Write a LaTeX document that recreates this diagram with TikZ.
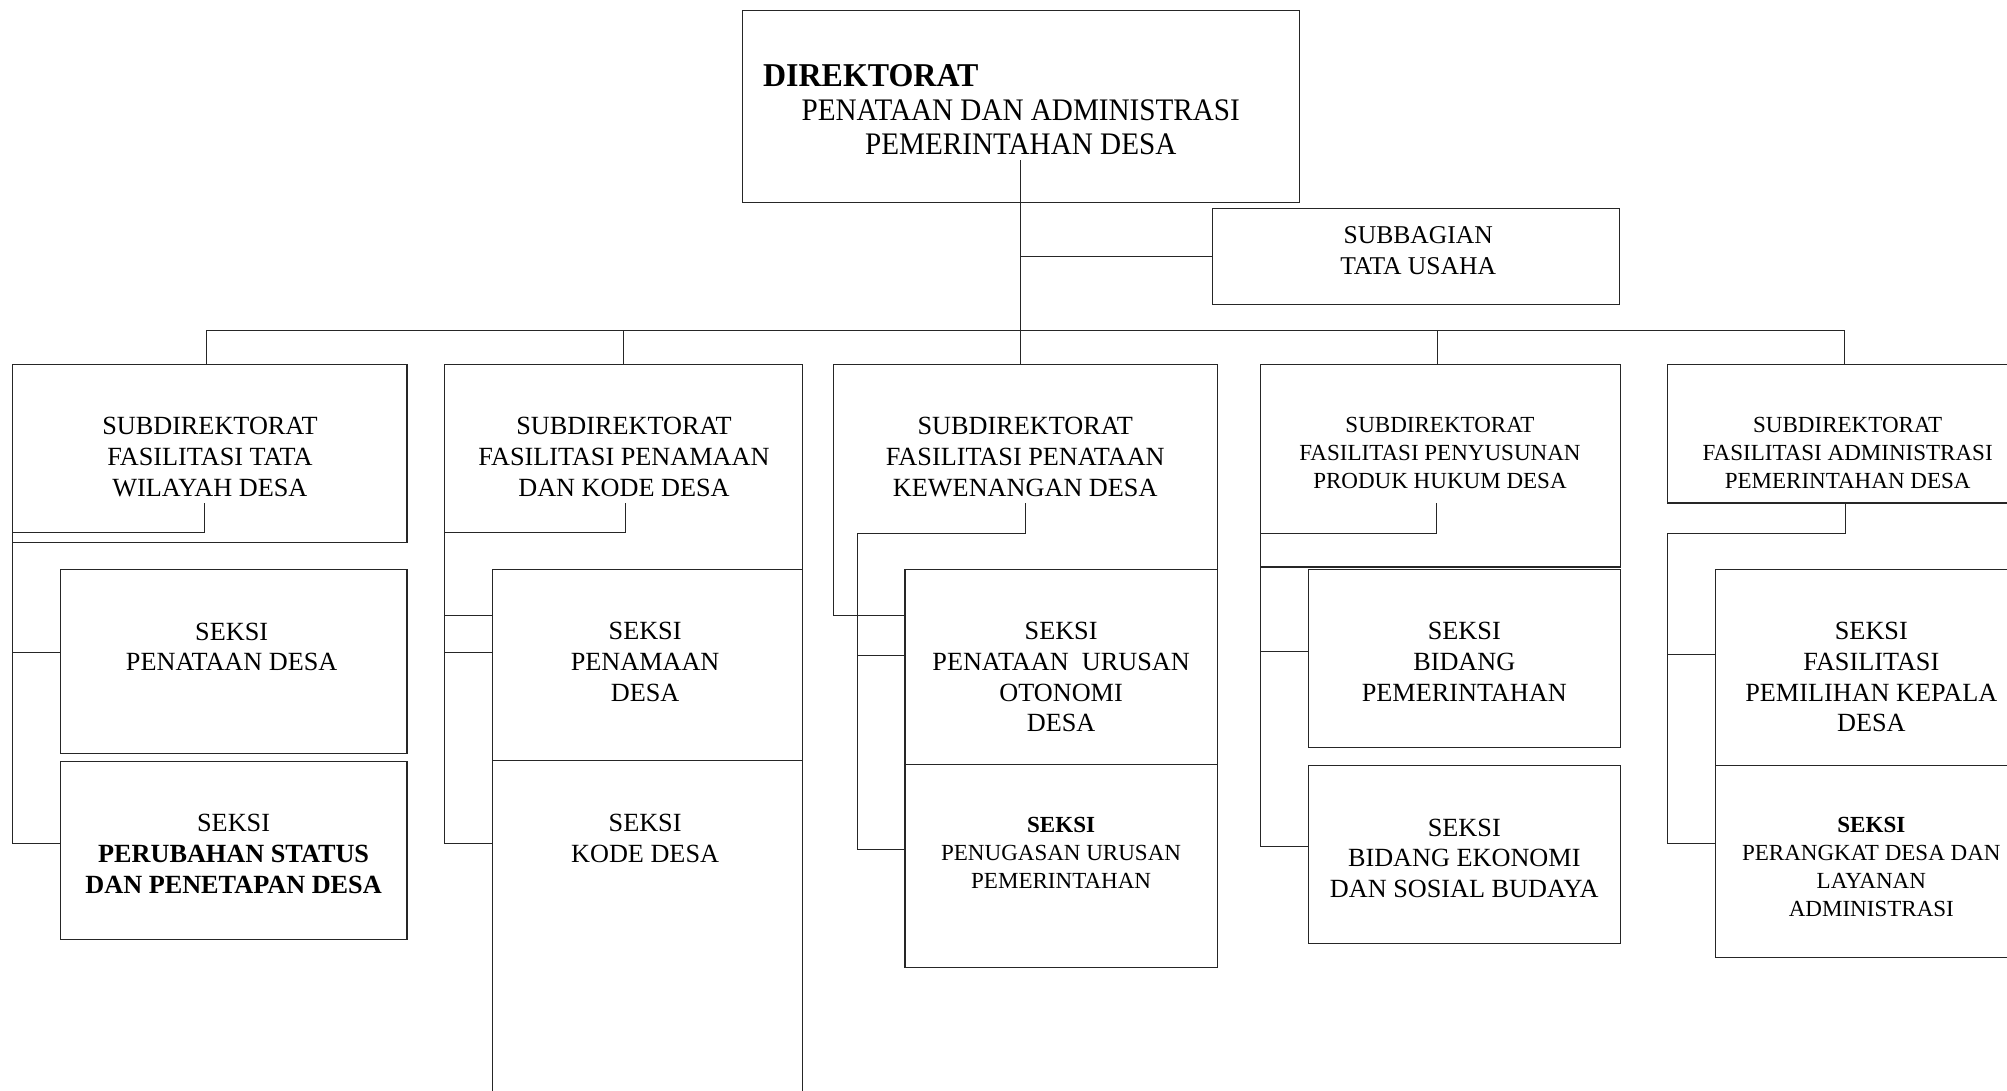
\documentclass[tikz,border=0pt]{standalone}
\usepackage{fontspec}
\setmainfont{Liberation Serif}
\newfontfamily\narrowfont[FakeStretch=0.93]{Liberation Serif}
\newfontfamily\narrowboldfont[FakeStretch=0.96]{Liberation Serif}
\begin{document}
\begin{tikzpicture}[x=1pt,y=-1pt,
  box/.style={draw=black!85, line width=0.9pt, fill=white, rectangle, inner sep=0pt, outer sep=0pt},
  ln/.style={draw=black!85, line width=0.9pt},
  txt/.style={font=\fontsize{20.5}{24}\selectfont, align=center, inner sep=0pt},
  stxt/.style={font=\fontsize{18}{22}\selectfont, align=center, inner sep=0pt}]
\useasboundingbox (0,0) rectangle (1568,852);
\fill[white] (0,0) rectangle (1568,852);
\clip (0,0) rectangle (1568,852);

% top boxes
\node[box, minimum width=435pt, minimum height=150pt] (dir) at (797.5,83) {};
\node[box, minimum width=318pt, minimum height=75pt] (sb) at (1106,200.5) {};

% subdirektorat boxes
\node[box, minimum width=308pt, minimum height=139pt] (sd1) at (164,354.5) {};
\node[box, minimum width=280pt, minimum height=196pt] (sd2) at (487,383) {};
\node[box, minimum width=300pt, minimum height=196pt] (sd3) at (801,383) {};
\node[box, minimum width=281pt, minimum height=158pt] (sd4) at (1125.5,364) {};
\node[box, minimum width=281pt, minimum height=108pt] (sd5) at (1443.5,339) {};

% seksi boxes
\node[box, minimum width=271pt, minimum height=144pt] (s1a) at (182.5,517) {};
\node[box, minimum width=271pt, minimum height=139pt] (s1b) at (182.5,664.5) {};
\node[box, minimum width=242pt, minimum height=149pt] (s2a) at (506,519.5) {};
\node[box, minimum width=242pt, minimum height=286pt] (s2b) at (506,737) {};
\node[box, minimum width=244pt, minimum height=152pt] (s3a) at (829,521) {};
\node[box, minimum width=244pt, minimum height=159pt] (s3b) at (829,676.5) {};
\node[box, minimum width=244pt, minimum height=139pt] (s4a) at (1144,514.5) {};
\node[box, minimum width=244pt, minimum height=139pt] (s4b) at (1144,667.5) {};
\node[box, minimum width=244pt, minimum height=153pt] (s5a) at (1462,521.5) {};
\node[box, minimum width=244pt, minimum height=150pt] (s5b) at (1462,673) {};

% top connectors
\coordinate (dtop) at (797.5,125);
\coordinate (bus) at (0,258);
\draw[ln] (dtop) -- (dtop |- sd3.north);
\draw[ln] (dtop |- sb.west) -- (sb.west);
\draw[ln] ([xshift=-3pt]sd1.north) -- ([xshift=-3pt]sd1.north |- bus) -- ([xshift=-2.5pt]sd5.north |- bus) -- ([xshift=-2.5pt]sd5.north);
\draw[ln] (sd2.north) -- (sd2.north |- bus);
\draw[ln] ([xshift=-2.5pt]sd4.north) -- ([xshift=-2.5pt]sd4.north |- bus);

% column connectors
\coordinate (k1) at (160,393);
\draw[ln] (k1) -- (k1 |- 0,416) -- (sd1.west |- 0,416) -- (sd1.west |- 0,659) -- (s1b.west |- 0,659);
\draw[ln] (sd1.west |- 0,510) -- (s1a.west |- 0,510);

\coordinate (k2) at (489,393);
\draw[ln] (k2) -- (k2 |- 0,416) -- (sd2.west |- 0,416) -- (sd2.west |- 0,659) -- (s2b.west |- 0,659);
\draw[ln] (sd2.west |- 0,510) -- (s2a.west |- 0,510);

\coordinate (k3) at (801,393);
\coordinate (r3) at (670,417);
\draw[ln] (k3) -- (k3 |- r3) -- (r3) -- (r3 |- 0,664) -- (s3b.west |- 0,664);
\draw[ln] (r3 |- 0,512) -- (s3a.west |- 0,512);

\coordinate (k4) at (1122,393);
\draw[ln] (k4) -- (k4 |- 0,417) -- (sd4.west |- 0,417) -- (sd4.west |- 0,661) -- (s4b.west |- 0,661);
\draw[ln] (sd4.west |- 0,509) -- (s4a.west |- 0,509);

\coordinate (k5) at (1442,393);
\draw[ln] (k5) -- (k5 |- 0,417) -- (sd5.west |- 0,417) -- (sd5.west |- 0,659) -- (s5b.west |- 0,659);
\draw[ln] (sd5.west |- 0,511) -- (s5a.west |- 0,511);

% texts
\node[anchor=west, inner sep=0pt, font=\narrowboldfont\bfseries\fontsize{26}{30}\selectfont] (t0a) at (596,59) {DIREKTORAT};
\node[align=center, inner sep=0pt, font=\narrowfont\fontsize{24.5}{27}\selectfont] (t0b) at (797.5,99.5) {PENATAAN DAN ADMINISTRASI\\PEMERINTAHAN DESA};
\node[txt, font=\fontsize{20}{24}\selectfont] (tsb) at (1108,196) {SUBBAGIAN\\TATA USAHA};

\node[txt] (t1) at (164,357) {SUBDIREKTORAT\\FASILITASI TATA\\WILAYAH DESA};
\node[txt] (t2) at (487.5,357) {SUBDIREKTORAT\\FASILITASI PENAMAAN\\DAN KODE DESA};
\node[txt] (t3) at (801,357) {SUBDIREKTORAT\\FASILITASI PENATAAN\\KEWENANGAN DESA};
\node[stxt] (t4) at (1125,354) {SUBDIREKTORAT\\FASILITASI PENYUSUNAN\\PRODUK HUKUM DESA};
\node[stxt] (t5) at (1443.5,354) {SUBDIREKTORAT\\FASILITASI ADMINISTRASI\\PEMERINTAHAN DESA};

\node[txt] (t1a) at (181,505.5) {SEKSI\\PENATAAN DESA};
\node[txt] (t1b) at (182.5,667) {SEKSI\\\textbf{PERUBAHAN STATUS}\\\textbf{DAN PENETAPAN DESA}};
\node[txt] (t2a) at (504,517) {SEKSI\\PENAMAAN\\DESA};
\node[txt] (t2b) at (504,655) {SEKSI\\KODE DESA};
\node[txt] (t3a) at (829,529) {SEKSI\\PENATAAN\ \ URUSAN\\OTONOMI\\DESA};
\node[stxt] (t3b) at (829,666.5) {\textbf{SEKSI}\\PENUGASAN URUSAN\\PEMERINTAHAN};
\node[txt] (t4a) at (1144,517) {SEKSI\\BIDANG\\PEMERINTAHAN};
\node[txt] (t4b) at (1144,670.5) {SEKSI\\BIDANG EKONOMI\\DAN SOSIAL BUDAYA};
\node[txt] (t5a) at (1462,529) {SEKSI\\FASILITASI\\PEMILIHAN KEPALA\\DESA};
\node[stxt] (t5b) at (1462,677.5) {\textbf{SEKSI}\\PERANGKAT DESA DAN\\LAYANAN\\ADMINISTRASI};
\end{tikzpicture}
\end{document}
